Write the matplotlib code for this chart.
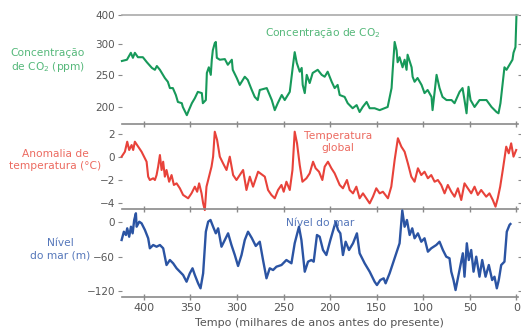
import numpy as np
import matplotlib
matplotlib.use("Agg")
import matplotlib.pyplot as plt

# ---- data ----
co2_age = [423.6, 418.2, 414, 411.8, 409.7, 406.4, 401.1, 396.8, 391.4, 388.2, 386.1, 382.8,
           377.5, 374.3, 372.1, 368.9, 365.7, 363.5, 359.3, 358.2, 353.9, 351.7, 348.5, 345.3,
           342.1, 337.8, 336.7, 333.5, 332.4, 330.3, 328.2, 327.1, 326, 323.9, 322.8, 321.7,
           318.5, 313.1, 309.9, 305.6, 304.6, 300.3, 297.1, 291.7, 288.5, 284.2, 281, 277.8,
           275.6, 268.1, 262.7, 259.5, 256.3, 252, 248.8, 243.4, 240.2, 238.1, 235.9, 232.7,
           230.6, 229.5, 227.3, 225.2, 222, 218.8, 213.4, 209.1, 205.9, 202.7, 198.4, 195.2,
           192, 189.8, 184.5, 181.2, 175.9, 171.6, 168.4, 165.1, 160.9, 157.6, 152.3, 146.9,
           141.6, 138.3, 134.1, 133, 130.8, 128.7, 127.6, 125.5, 122.3, 120.1, 118, 116.9,
           112.6, 111.5, 109.4, 106.2, 101.9, 98.7, 95.4, 91.2, 90.1, 87.9, 85.8, 82.6, 79.4,
           75.1, 69.7, 66.5, 61.1, 57.9, 55.8, 53.6, 51.5, 49.3, 45, 39.7, 32.2, 26.8, 21.4,
           19.3, 17.2, 15, 12.9, 10.7, 7.5, 4.3, 3.2, 1.1, 0]
co2_ppm = [273, 275, 286, 278, 286, 279, 279, 271, 262, 259, 265, 259,
           246, 240, 230, 230, 219, 208, 206, 200, 187, 195, 206, 214,
           224, 222, 206, 211, 254, 263, 251, 275, 290, 303, 307, 278,
           275, 276, 267, 275, 259, 246, 235, 248, 243, 227, 216, 211,
           227, 230, 211, 195, 206, 219, 211, 224, 263, 287, 270, 256,
           262, 235, 222, 251, 238, 254, 259, 251, 248, 256, 240, 230,
           235, 219, 216, 206, 198, 203, 192, 200, 208, 198, 198, 195,
           198, 200, 230, 256, 307, 290, 271, 279, 263, 275, 259, 283,
           263, 248, 240, 246, 235, 222, 227, 216, 195, 224, 251, 230, 216,
           211, 211, 206, 224, 230, 211, 190, 232, 211, 200, 211, 211, 200, 192,
           190, 206, 235, 263, 259, 267, 275, 286, 295, 400]

temp_age = [423.9, 420.4, 417.9, 415.8, 413.2, 411.5, 409.7, 406.1, 402.5, 398.9, 397.1, 395.4,
            393.6, 390, 388.2, 386.4, 384.7, 382.8, 381, 379.3, 377.5, 375.7, 372.9, 370.3,
            367.8, 364.9, 361.4, 357.9, 355, 352.5, 348.9, 345.3, 342.8, 340.7, 338.1, 336.4,
            334.6, 332.8, 331, 327.4, 325.7, 323.9, 321.4, 318.5, 315, 311.3, 307.8, 304.2,
            300.6, 293.5, 289.9, 286.3, 282.8, 277.4, 270.2, 266.7, 263.1, 259.5, 256, 252.3,
            249.9, 247, 243.4, 240.5, 238.1, 235.6, 232.7, 229.8, 225.5, 222, 218.4, 215.6,
            212, 208.4, 205.9, 202.4, 198.7, 195.2, 189.8, 186.3, 182, 179.1, 175.5, 171.9,
            168.4, 164.8, 161.2, 157.6, 154.1, 150.5, 146.9, 143.4, 138, 134.4, 130.8, 127.3,
            123.6, 120.1, 116.6, 112.9, 109.4, 105.8, 102.2, 98.7, 95.1, 91.5, 87.9, 84.4,
            80.8, 77.2, 73.7, 70, 66.5, 62.9, 59.3, 55.8, 52.2, 48.6, 45, 41.5, 37.9, 32.5,
            29, 25.4, 22.5, 20.1, 17.5, 14.7, 11, 8.3, 5.7, 3.2, 0.3]
temp_anom = [0.03, 0.46, 1.33, 0.61, 1.04, 0.61, 1.33, 0.9, 0.46, -0.11, -0.41, -1.71,
             -2.0, -1.85, -2.0, -1.57, -0.84, 0.17, -1.13, -0.41, -1.71, -1.13, -2.15, -1.57,
             -2.43, -2.29, -2.72, -3.3, -3.45, -3.59, -3.16, -2.58, -3.02, -2.29, -3.16, -4.03,
             -4.61, -2.58, -2.0, -0.84, 0.03, 2.2, 1.48, 0.03, -0.55, -1.13, 0.03, -1.57,
             -2.0, -1.13, -2.87, -1.71, -2.58, -1.28, -1.71, -2.87, -3.3, -3.59, -2.87, -2.43,
             -3.02, -2.15, -2.87, -1.13, 2.2, 1.19, -0.7, -2.15, -1.85, -1.42, -0.41, -0.98,
             -1.28, -2.0, -0.84, -0.41, -0.98, -1.42, -2.43, -2.72, -2.0, -2.87, -3.16, -2.58,
             -3.59, -3.16, -3.59, -4.03, -3.45, -2.72, -3.16, -3.02, -3.59, -2.58, -0.26, 1.63,
             0.9, 0.46, -0.55, -1.71, -2.15, -0.98, -1.57, -1.28, -1.85, -1.57, -2.15, -2.0,
             -2.43, -3.16, -2.43, -3.02, -3.45, -2.72, -3.74, -2.29, -2.72, -3.16, -2.58, -3.3, -2.87, -3.45,
             -3.16, -3.74, -4.32, -3.59, -2.58, -1.13, 0.9, 0.32, 1.19, 0.03, 0.61]

sea_age = [423.9, 421.5, 419.3, 417.9, 415.8, 413.9, 412.1, 410.4, 408.6, 407.8, 405, 402.5,
           398.9, 395.4, 393.6, 390, 386.4, 382.8, 379.3, 375.7, 372.1, 368.6, 364.9, 361.4,
           357.9, 354.2, 350.7, 347.8, 345.3, 341.8, 339.2, 336.4, 333.5, 331, 328.5, 325.7,
           322.8, 320.3, 316.7, 313.1, 309.6, 306, 302.4, 298.9, 295.2, 291.7, 288.2, 284.2,
           279.9, 275.6, 272.1, 268.4, 264.9, 261.3, 257.7, 252.3, 247, 241.6, 238.1, 233.5,
           230.9, 227.3, 223.8, 220.2, 217.7, 214.2, 211.3, 207.7, 204.1, 199.8, 194.1, 191.6,
           189.1, 186.3, 183.4, 179.8, 175.5, 171.3, 168.4, 163, 157.6, 152.3, 149.8, 146.2,
           142.6, 140.5, 136.2, 130.8, 125.5, 122.6, 120.1, 117.6, 114.7, 111.9, 109.4, 105.8,
           102.2, 98.7, 95.1, 91.5, 86.1, 82.6, 79, 75.4, 71.9, 70, 67.6, 65.4, 62.9, 60.4,
           57.6, 55.8, 53.3, 51.2, 48.6, 46.1, 43.2, 39.7, 36.8, 33.2, 29.7, 26.1, 23.6, 21.1,
           19, 16.4, 12.9, 10.4, 7.5, 6.5]
sea_level = [-31.3, -16.9, -22.6, -11, -25.6, -8.2, -19.7, 3.5, 15.1, -8.2, 0.5, -2.3,
             -13.9, -28.3, -45.7, -40, -43, -40, -45.7, -74.8, -66.1, -71.8, -80.5, -86.4,
             -92.2, -103.8, -89.2, -80.5, -92.2, -106.6, -115.3, -89.2, -16.9, 0.5, 3.5, -8.2,
             -19.7, -11, -43, -31.3, -19.7, -40, -57.4, -76.5, -57.4, -31.3, -16.9, -27.8,
             -41.7, -34.3, -66.1, -97.9, -80.5, -83.5, -77.7, -74.8, -66.1, -71.8, -37, -8.2,
             -31.3, -86.4, -69, -66.1, -69, -22.6, -25.6, -48.7, -57.4, -31.3, 0.5, -13.9,
             -19.7, -57.4, -34.3, -48.7, -37, -19.7, -54.4, -71.8, -86.4, -103.8, -109.6, -100.9,
             -97.9, -106.6, -89.2, -63.1, -37, 20, -8.2, 3.5, -22.6, -11, -28.3, -19.7,
             -34.3, -28.3, -51.6, -45.7, -40, -34.3, -48.7, -60.3, -63.1, -86.4, -100.9, -118.3, -97.9, -77.7,
             -54.4, -95.1, -37, -66.1, -48.7, -86.4, -60.3, -95.1, -66.1, -95.1, -74.8, -100.9, -95.1, -115.3,
             -100.9, -74.8, -69, -16.9, -5.2, -3.5]

age_ticks = [400, 350, 300, 250, 200, 150, 100, 50, 0]
co2_ticks = [200, 250, 300, 400]
temp_ticks = [2, 0, -2, -4]
sea_ticks = [0, -60, -120]

GREEN, RED, BLUE = "#17995a", "#e8423a", "#2b54a3"
GREEN_T, RED_T, BLUE_T = "#55b87a", "#ec6a60", "#5577ba"
GRAY = "#8a8a8a"
TXT = "#555555"
LBL = 7.7

plt.rcParams['font.family'] = ['DejaVu Sans']

fig = plt.figure(figsize=(5.21, 3.31), dpi=100)
L, W = 0.234, 0.760
ax1 = fig.add_axes([L, 0.6254, W, 0.3293])
ax2 = fig.add_axes([L, 0.3686, W, 0.2568])
ax3 = fig.add_axes([L, 0.1027, W, 0.2659])

def fwd(v):
    v = np.asarray(v, dtype=float)
    return np.where(v <= 300, v, 300 + (v - 300) * 0.46)

def inv(u):
    u = np.asarray(u, dtype=float)
    return np.where(u <= 300, u, 300 + (u - 300) / 0.46)

ax1.plot(co2_age, co2_ppm, color=GREEN, lw=1.5, clip_on=False)
ax1.set_yscale('function', functions=(fwd, inv))
ax1.set_ylim(173, 400)
ax1.set_yticks(co2_ticks)
ax1.set_yticklabels([str(t) for t in co2_ticks])

ax2.plot(temp_age, temp_anom, color=RED, lw=1.5, clip_on=False)
ax2.set_ylim(-4.52, 2.87)
ax2.set_yticks(temp_ticks)
ax2.set_yticklabels([str(t).replace('-', '\u2212') for t in temp_ticks])

ax3.plot(sea_age, sea_level, color=BLUE, lw=1.7, clip_on=False)
ax3.set_ylim(-130.4, 22.6)
ax3.set_yticks(sea_ticks)
ax3.set_yticklabels([str(t).replace('-', '\u2212') for t in sea_ticks])

for ax in (ax1, ax2, ax3):
    ax.set_xlim(423.6, -1.5)
    ax.set_xticks(age_ticks)
    for s in ('left', 'right', 'top'):
        ax.spines[s].set_visible(False)
    ax.spines['bottom'].set_color(GRAY)
    ax.spines['bottom'].set_linewidth(1.2)
    ax.tick_params(axis='y', left=True, right=True, length=3, width=0.8, color=GRAY,
                   labelsize=7.5, labelcolor=TXT, pad=2)
    ax.tick_params(axis='x', direction='inout', length=4, width=1, color=GRAY,
                   labelsize=8, labelcolor=TXT, pad=2)
    ax.patch.set_alpha(0)

ax1.spines['top'].set_visible(True)
ax1.spines['top'].set_color("#aaaaaa")
ax1.spines['top'].set_linewidth(1.2)
ax1.tick_params(axis='x', labelbottom=False)
ax2.tick_params(axis='x', labelbottom=False)
ax3.set_xticklabels([str(t) for t in age_ticks])
ax3.set_xlabel("Tempo (milhares de anos antes do presente)", fontsize=8, color=TXT, labelpad=4)

# left-side labels
fig.text(48 / 521, 1 - 61 / 331, "Concentração\nde CO$_2$ (ppm)", color=GREEN_T, fontsize=LBL,
         ha='center', va='center', linespacing=1.3)
fig.text(55 / 521, 1 - 160 / 331, "Anomalia de\ntemperatura (°C)", color=RED_T, fontsize=LBL,
         ha='center', va='center', linespacing=1.3)
fig.text(60 / 521, 1 - 249 / 331, "Nível\ndo mar (m)", color=BLUE_T, fontsize=LBL,
         ha='center', va='center', linespacing=1.3)

# in-panel labels
fig.text(265 / 521, 1 - 33 / 331, "Concentração de CO$_2$", color=GREEN_T, fontsize=LBL,
         ha='left', va='center')
fig.text(338 / 521, 1 - 142 / 331, "Temperatura\nglobal", color=RED_T, fontsize=LBL,
         ha='center', va='center', linespacing=1.3)
fig.text(286 / 521, 1 - 223 / 331, "Nível do mar", color=BLUE_T, fontsize=LBL,
         ha='left', va='center')

fig.savefig("out.png", dpi=100)
